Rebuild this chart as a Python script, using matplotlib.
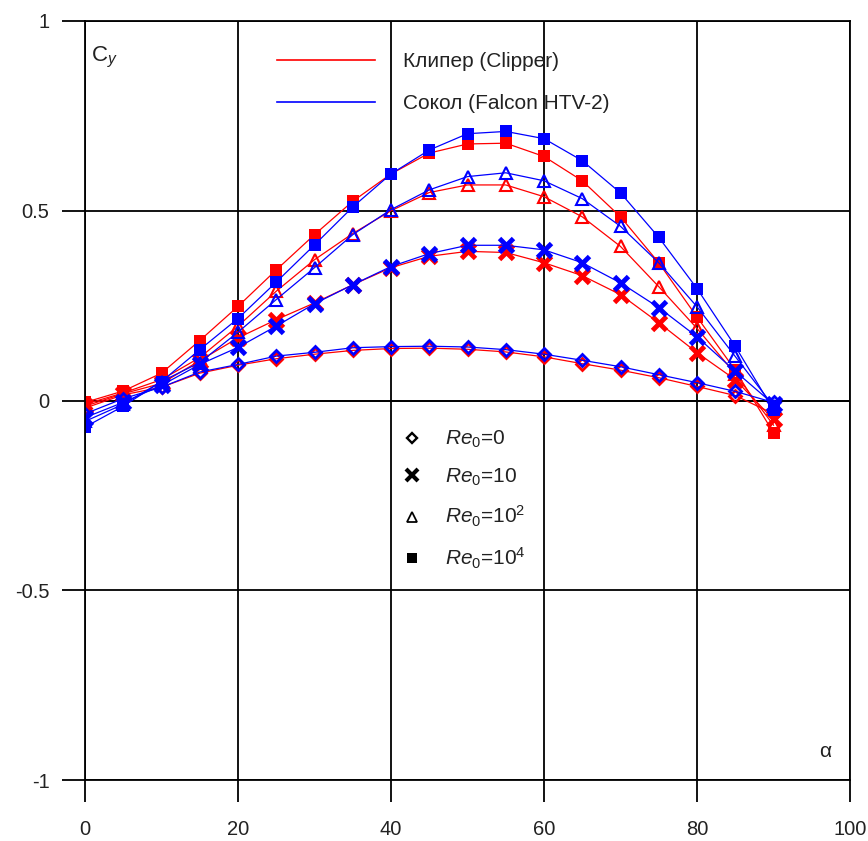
import numpy as np
import matplotlib
matplotlib.use("Agg")
import matplotlib.pyplot as plt
from matplotlib.lines import Line2D

plt.rcParams['font.family'] = ['Liberation Sans', 'DejaVu Sans']
plt.rcParams['mathtext.fontset'] = 'custom'
plt.rcParams['mathtext.rm'] = 'Liberation Sans'
plt.rcParams['mathtext.it'] = 'Liberation Sans:italic'

alpha = [0, 5, 10, 15, 20, 25, 30, 35, 40, 45, 50, 55, 60, 65, 70, 75, 80, 85, 90]

# Клипер (Clipper)
clip_re0 = [-0.02, 0.015, 0.035, 0.072, 0.093, 0.11, 0.122, 0.132, 0.137, 0.138, 0.135, 0.128, 0.115, 0.097, 0.08, 0.06, 0.037, 0.013, -0.035]
clip_re10 = [-0.015, 0.018, 0.045, 0.105, 0.165, 0.213, 0.257, 0.305, 0.35, 0.38, 0.393, 0.39, 0.363, 0.329, 0.279, 0.205, 0.126, 0.055, -0.05]
clip_re100 = [-0.01, 0.02, 0.055, 0.113, 0.196, 0.288, 0.371, 0.44, 0.50, 0.548, 0.568, 0.568, 0.537, 0.484, 0.406, 0.30, 0.19, 0.07, -0.065]
clip_re1e4 = [-0.005, 0.025, 0.072, 0.158, 0.248, 0.344, 0.437, 0.525, 0.597, 0.652, 0.676, 0.678, 0.643, 0.579, 0.484, 0.363, 0.22, 0.08, -0.085]

# Сокол (Falcon HTV-2)
falc_re0 = [-0.035, 0.005, 0.035, 0.075, 0.095, 0.117, 0.127, 0.139, 0.142, 0.143, 0.141, 0.134, 0.122, 0.106, 0.089, 0.068, 0.047, 0.024, -0.005]
falc_re10 = [-0.045, -0.005, 0.04, 0.095, 0.14, 0.196, 0.255, 0.305, 0.353, 0.387, 0.409, 0.409, 0.397, 0.363, 0.31, 0.245, 0.168, 0.077, -0.01]
falc_re100 = [-0.055, -0.01, 0.05, 0.10, 0.18, 0.266, 0.35, 0.437, 0.503, 0.555, 0.59, 0.60, 0.579, 0.532, 0.459, 0.363, 0.247, 0.116, -0.015]
falc_re1e4 = [-0.07, -0.015, 0.05, 0.134, 0.216, 0.312, 0.41, 0.51, 0.597, 0.66, 0.703, 0.709, 0.69, 0.632, 0.547, 0.43, 0.295, 0.143, -0.025]

re_labels = [r'$Re_0$=0', r'$Re_0$=10', r'$Re_0$=10$^2$', r'$Re_0$=10$^4$']

# marker styles for Re0 = 0, 10, 10^2, 10^4
styles = [
    dict(marker='D', markersize=6, mfc='none', mew=2.0),
    dict(marker='x', markersize=10, mew=3.5),
    dict(marker='^', markersize=9, mfc='none', mew=1.5),
    dict(marker='s', markersize=8, mew=0),
]

fig = plt.figure(figsize=(8.68, 8.41), dpi=100)
ax = fig.add_axes([85/868, 61/841, 765/868, 759/841])

for series, col in [([clip_re0, clip_re10, clip_re100, clip_re1e4], '#ff0000'),
                    ([falc_re0, falc_re10, falc_re100, falc_re1e4], '#0000ff')]:
    for vals, st in zip(series, styles):
        ax.plot(alpha, vals, color=col, lw=0.9, mec=col, **st)

ax.set_xlim(0, 100)
ax.set_ylim(-1, 1)
ax.set_xticks([0, 20, 40, 60, 80, 100])
ax.set_yticks([-1, -0.5, 0, 0.5, 1])
ax.set_yticklabels(['-1', '-0.5', '0', '0.5', '1'])
ax.grid(True, color='black', lw=1.3)
ax.axhline(0, color='black', lw=1.3, zorder=1)
for sp in ax.spines.values():
    sp.set_linewidth(1.3)
ax.tick_params(axis='y', direction='out', length=16.5, width=1.3, pad=9, labelsize=14.5,
               labelcolor='#222222')
ax.tick_params(axis='x', direction='out', length=16, width=1.3, pad=13, labelsize=14.5,
               labelcolor='#222222')

ax.text(0.8, 0.893, r'$\mathrm{C}_y$', fontsize=16, color='#222222')
ax.text(96.7, -0.94, 'α', fontsize=15, color='#222222', ha='center')

h1 = [Line2D([], [], color='#ff0000', lw=1.2), Line2D([], [], color='#0000ff', lw=1.2)]
leg1 = ax.legend(h1, ['Клипер (Clipper)', 'Сокол (Falcon HTV-2)'], loc='upper left',
                 bbox_to_anchor=(0.227, 0.984), frameon=False, fontsize=15,
                 handlelength=4.7, handletextpad=1.35, labelspacing=1.1)
for t in leg1.get_texts():
    t.set_color('#222222')
ax.add_artist(leg1)

h2 = []
for st in styles:
    h2.append(Line2D([], [], color='black', ls='none', mec='black',
                     **{**st, 'markersize': st['markersize'] * 0.85,
                        'mew': st['mew'] * 0.85}))
leg2 = ax.legend(h2, re_labels, loc='upper left', bbox_to_anchor=(0.389, 0.487),
                 frameon=False, fontsize=15, handlelength=1.0, handletextpad=1.1,
                 labelspacing=0.78)
for t in leg2.get_texts():
    t.set_color('#222222')

fig.savefig('out.png', dpi=100)
